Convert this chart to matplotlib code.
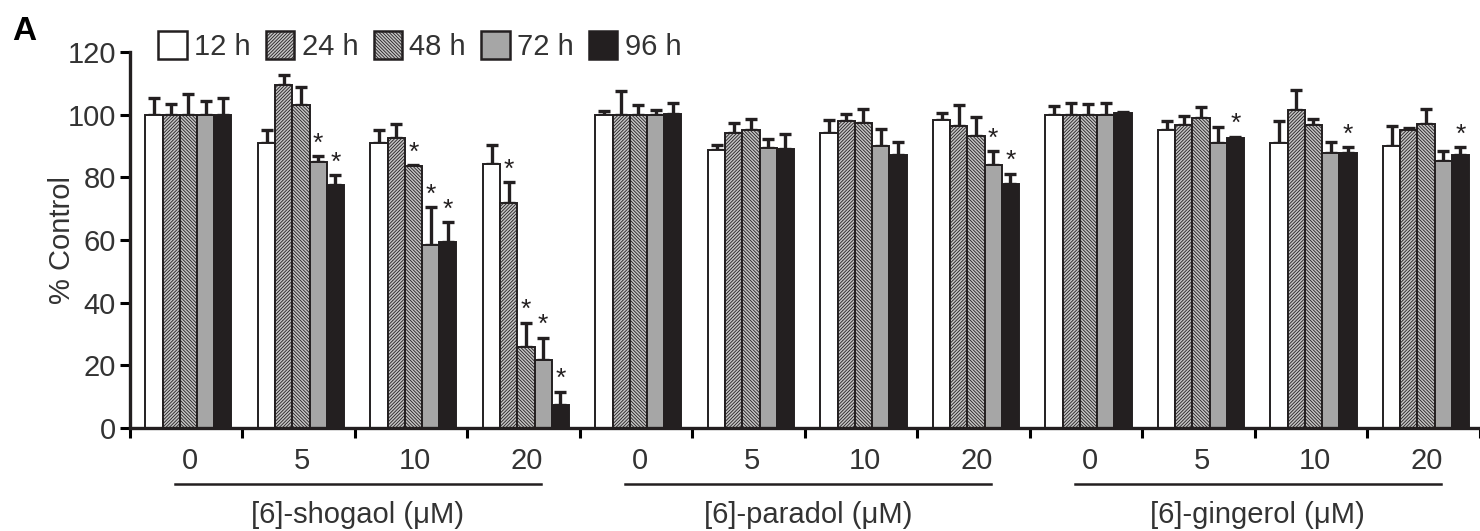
import numpy as np
import matplotlib
matplotlib.use("Agg")
import matplotlib.pyplot as plt
from matplotlib.patches import Patch

plt.rcParams["font.family"] = ["Liberation Sans", "DejaVu Sans"]
plt.rcParams["hatch.linewidth"] = 0.6
plt.rcParams["hatch.color"] = "#8e8e8e"

doses = ["0", "5", "10", "20"]
compounds = ["[6]-shogaol (\u03bcM)", "[6]-paradol (\u03bcM)", "[6]-gingerol (\u03bcM)"]
times = ["12 h", "24 h", "48 h", "72 h", "96 h"]

# % control, 12 groups: shogaol 0/5/10/20, paradol 0/5/10/20, gingerol 0/5/10/20
h12 = [100, 91, 91, 84.3, 100, 88.6, 94.2, 98.2, 100, 95.2, 91, 90]
h24 = [100, 109.4, 92.5, 71.8, 100, 94.2, 97.9, 96.3, 100, 96.6, 101.6, 95]
h48 = [100, 103, 83.5, 26, 100, 95, 97.4, 93.2, 100, 99, 96.8, 97.1]
h72 = [100, 84.8, 58.5, 21.6, 100, 89.4, 90, 84.1, 100, 91, 87.8, 85.2]
h96 = [100, 77.7, 59.3, 7.2, 100.3, 89, 87.2, 77.9, 100.6, 92.6, 87.7, 87.2]

e12 = [5.4, 4.2, 4.2, 6.1, 1.3, 1.6, 4.0, 2.4, 2.9, 2.7, 6.9, 6.3]
e24 = [3.5, 3.4, 4.6, 6.6, 7.5, 3.2, 2.4, 6.7, 3.8, 2.9, 6.2, 0.8]
e48 = [6.5, 5.8, 0.3, 7.6, 3.2, 3.7, 4.5, 6.0, 3.3, 3.4, 1.9, 4.6]
e72 = [4.3, 2.0, 11.9, 7.2, 1.4, 2.9, 5.5, 4.3, 3.7, 5.0, 3.6, 3.1]
e96 = [5.3, 2.9, 6.3, 4.4, 3.4, 4.9, 4.0, 3.2, 0.2, 0.4, 1.9, 2.4]

# (group, time index) pairs marked significant
stars = [(1, 3), (1, 4), (2, 2), (2, 3), (2, 4), (3, 1), (3, 2), (3, 3), (3, 4),
         (7, 3), (7, 4), (9, 4), (10, 4), (11, 4)]

values = [h12, h24, h48, h72, h96]
errors = [e12, e24, e48, e72, e96]
faces = ["white", "#c4c4c4", "#c4c4c4", "#a6a6a6", "#231f20"]
hatches = [None, "//////////", "\\\\\\\\\\\\\\\\\\\\", None, None]
ink = "#231f20"

fig = plt.figure(figsize=(14.8, 5.31), dpi=100)
ax = fig.add_axes([0.0878, 0.194, 0.9122, 0.708])

x = np.arange(12)
w = 0.153
for i in range(5):
    xs = x + (i - 2) * w + 0.02
    ax.bar(xs, values[i], w, color=faces[i], edgecolor=ink,
           linewidth=1.4, hatch=hatches[i], zorder=2)
    ax.errorbar(xs, values[i], yerr=[np.zeros(12), errors[i]], fmt="none",
                ecolor=ink, elinewidth=2.4, capsize=4.5, capthick=2.4, zorder=1)

for g, i in stars:
    top = values[i][g] + errors[i][g]
    ax.text(g + (i - 2) * w + 0.02, top + 0.2, "*", ha="center", va="bottom",
            fontsize=19, color=ink)

ax.set_xlim(-0.5, 11.5)
ax.set_ylim(0, 120)
ax.set_yticks(range(0, 121, 20))
ax.set_xticks(np.arange(-0.5, 12, 1))
ax.set_xticklabels([])
ax.tick_params(axis="y", direction="out", length=7, width=2.2, labelsize=21,
               pad=3, labelcolor="#333333")
ax.tick_params(axis="x", direction="out", length=7, width=2.2)
for s in ["top", "right"]:
    ax.spines[s].set_visible(False)
for s in ["left", "bottom"]:
    ax.spines[s].set_linewidth(2.4)
    ax.spines[s].set_color(ink)
ax.set_ylabel("% Control", fontsize=21, labelpad=-6, color="#333333")

trans = ax.get_xaxis_transform()
for g in range(12):
    ax.text(g + 0.03, -0.088, doses[g % 4], transform=trans, ha="center",
            va="center", fontsize=21, color="#333333")
for k, name in enumerate(compounds):
    x0, x1 = 4 * k - 0.1, 4 * k + 3.15
    ax.plot([x0, x1], [-0.149, -0.149], transform=trans, color=ink,
            lw=1.8, clip_on=False)
    ax.text((x0 + x1) / 2, -0.232, name, transform=trans, ha="center",
            va="center", fontsize=21, color="#333333")

handles = [Patch(facecolor=faces[i], edgecolor=ink, linewidth=1.8,
                 hatch=hatches[i], label=times[i]) for i in range(5)]
fig.legend(handles=handles, loc="center left", bbox_to_anchor=(0.107, 0.914),
           ncol=5, frameon=False, fontsize=21, handlelength=0.97,
           handleheight=1.1, handletextpad=0.25, columnspacing=0.53,
           borderpad=0, borderaxespad=0, labelcolor="#333333")

fig.text(0.008, 0.94, "A", fontsize=24, fontweight="bold", va="center")

fig.savefig("out.png", dpi=100)
